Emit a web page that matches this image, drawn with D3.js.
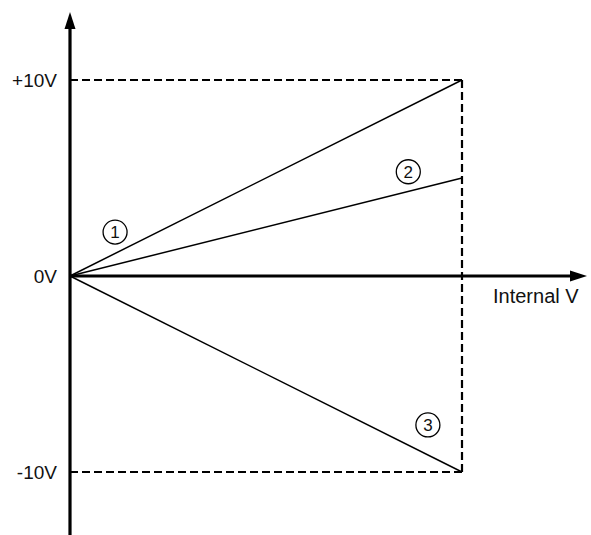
<!DOCTYPE html>
<html>
<head>
<meta charset="utf-8">
<script src="https://cdn.jsdelivr.net/npm/d3@7"></script>
<style>
  html, body { margin: 0; padding: 0; background: #fff; }
  svg { display: block; }
  .lbl { font-family: "Liberation Sans", Arial, sans-serif; font-size: 19px; fill: #111; }
</style>
</head>
<body>
<svg id="chart" width="591" height="535"></svg>
<script>
// Output voltage limits (V)
const LIMITS = [10, -10];
// Tick labels on the vertical axis
const TICKS = [
  { v: 10, label: '+10V' },
  { v: 0, label: '0V' },
  { v: -10, label: '-10V' },
];
// Transfer lines: output at full internal value
const CURVES = ['1', '2', '3'];
const CURVE_END = [10, 5, -10];
// Where each circled marker sits (internal fraction, volts)
const MARK_X = [0.115, 0.863, 0.913];
const MARK_Y = [2.24, 5.32, -7.6];

const svg = d3.select('#chart');

const x = d3.scaleLinear().domain([0, 1]).range([70, 462]);
const y = d3.scaleLinear().domain([-10, 10]).range([472, 80]);

// dashed bounding box
LIMITS.forEach(v => {
  svg.append('line')
    .attr('x1', x(0)).attr('x2', x(1))
    .attr('y1', y(v)).attr('y2', y(v))
    .attr('stroke', '#000').attr('stroke-width', 2.2)
    .attr('stroke-dasharray', '8,4');
});
svg.append('line')
  .attr('x1', x(1)).attr('x2', x(1))
  .attr('y1', y(10)).attr('y2', y(-10))
  .attr('stroke', '#000').attr('stroke-width', 2.2)
  .attr('stroke-dasharray', '8,4');

// transfer lines
CURVES.forEach((c, i) => {
  svg.append('line')
    .attr('x1', x(0)).attr('y1', y(0))
    .attr('x2', x(1)).attr('y2', y(CURVE_END[i]))
    .attr('stroke', '#000').attr('stroke-width', 1.5);
});

// circled markers
CURVES.forEach((c, i) => {
  const cx = x(MARK_X[i]), cy = y(MARK_Y[i]);
  svg.append('circle')
    .attr('cx', cx).attr('cy', cy).attr('r', 12)
    .attr('fill', 'none').attr('stroke', '#000').attr('stroke-width', 1.3);
  svg.append('text')
    .attr('class', 'lbl')
    .attr('x', cx).attr('y', cy + 6)
    .attr('text-anchor', 'middle')
    .style('font-size', '17px')
    .text(c);
});

// axes with arrows
const AXIS_W = 3.2;
// vertical
svg.append('line')
  .attr('x1', x(0)).attr('x2', x(0))
  .attr('y1', 535).attr('y2', 26)
  .attr('stroke', '#000').attr('stroke-width', AXIS_W);
svg.append('path')
  .attr('d', `M${x(0)},12 L${x(0) - 5.5},29 L${x(0) + 5.5},29 Z`)
  .attr('fill', '#000');
// horizontal
svg.append('line')
  .attr('x1', x(0)).attr('x2', 572)
  .attr('y1', y(0)).attr('y2', y(0))
  .attr('stroke', '#000').attr('stroke-width', AXIS_W);
svg.append('path')
  .attr('d', `M587,${y(0)} L570,${y(0) - 5.5} L570,${y(0) + 5.5} Z`)
  .attr('fill', '#000');

// tick labels
TICKS.forEach(t => {
  svg.append('text')
    .attr('class', 'lbl')
    .attr('x', 57).attr('y', y(t.v) + 7)
    .attr('text-anchor', 'end')
    .text(t.label);
});

svg.append('text')
  .attr('class', 'lbl')
  .attr('x', 493).attr('y', 303)
  .style('font-size', '20px')
  .text('Internal V');
</script>
</body>
</html>
